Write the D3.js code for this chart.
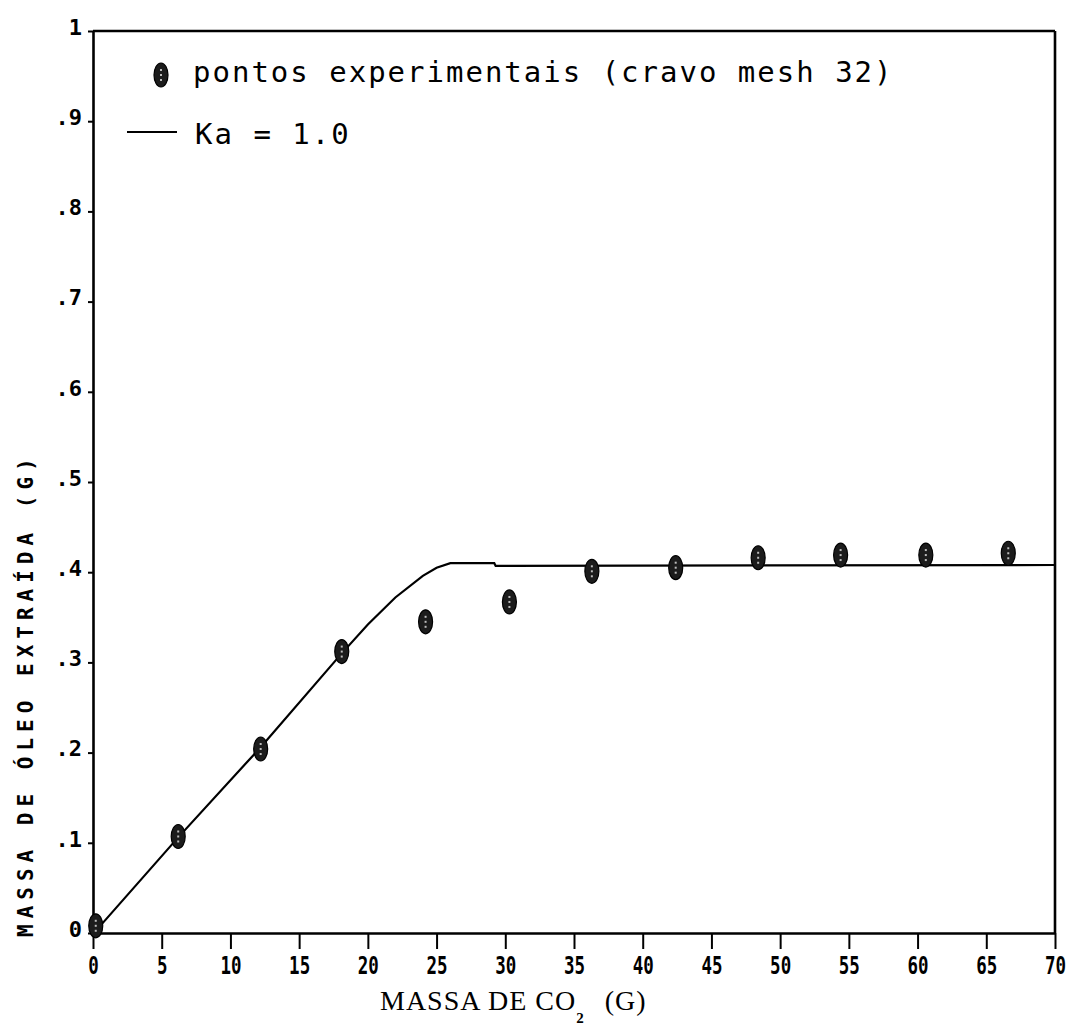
<!DOCTYPE html>
<html>
<head>
<meta charset="utf-8">
<script src="https://cdn.jsdelivr.net/npm/d3@7"></script>
<style>
  html, body { margin: 0; padding: 0; background: #fff; }
  svg { display: block; }
</style>
</head>
<body>
<script>
// Extraction curve of clove oil (cravo, mesh 32): experimental points and model with Ka = 1.0
const co2Mass = [0.2, 6.2, 12.2, 18.1, 24.2, 30.3, 36.3, 42.4, 48.4, 54.4, 60.6, 66.6];
const oilMass = [0.008, 0.107, 0.204, 0.312, 0.345, 0.367, 0.401, 0.405, 0.416, 0.419, 0.419, 0.421];

const modelCo2 = [0.3, 6.2, 12.2, 18.1, 20, 22, 24, 25, 26, 29.2, 29.3, 70];
const modelOil = [0.004, 0.106, 0.206, 0.31, 0.342, 0.372, 0.396, 0.405, 0.41, 0.41, 0.407, 0.408];

const xTicks = [0, 5, 10, 15, 20, 25, 30, 35, 40, 45, 50, 55, 60, 65, 70];
const yTicks = [0, 0.1, 0.2, 0.3, 0.4, 0.5, 0.6, 0.7, 0.8, 0.9, 1];
const yTickLabels = ["0", ".1", ".2", ".3", ".4", ".5", ".6", ".7", ".8", ".9", "1"];

const legendPoints = "pontos experimentais (cravo mesh 32)";
const legendLine = "Ka = 1.0";
const xTitle = "MASSA DE CO";
const xTitleSub = "2";
const xTitleUnit = "(G)";
const yTitle = "MASSA DE ÓLEO EXTRAÍDA (G)";

const W = 1066, H = 1026;
const plotLeft = 93, plotRight = 1055, plotTop = 31, plotBottom = 933;

const svg = d3.select("body").append("svg")
  .attr("width", W).attr("height", H)
  .style("background", "#fff");

const x = d3.scaleLinear().domain([0, 70]).range([plotLeft, plotRight]);
const y = d3.scaleLinear().domain([0, 1]).range([plotBottom, plotTop]);

// x axis
const gx = svg.append("g")
  .attr("transform", `translate(0,${plotBottom})`)
  .call(d3.axisBottom(x).tickValues(xTicks).tickSize(16).tickSizeOuter(0).tickFormat(d3.format("d")));
gx.select(".domain").attr("stroke", "#000").attr("stroke-width", 2.6);
gx.selectAll(".tick line").attr("stroke", "#000").attr("stroke-width", 2);
gx.selectAll(".tick text")
  .attr("y", 41).attr("dy", 0)
  .attr("transform", "scale(0.7,1)")
  .attr("fill", "#000")
  .style("font-family", "'DejaVu Sans Mono', monospace")
  .style("font-weight", "bold")
  .style("font-size", "25px");

// y axis
const gy = svg.append("g")
  .attr("transform", `translate(${plotLeft},0)`)
  .call(d3.axisLeft(y).tickValues(yTicks).tickSize(5).tickPadding(6).tickSizeOuter(0)
    .tickFormat((d, i) => yTickLabels[i]));
gy.select(".domain").attr("stroke", "#000").attr("stroke-width", 2.6);
gy.selectAll(".tick line").attr("stroke", "#000").attr("stroke-width", 2);
gy.selectAll(".tick text")
  .attr("dy", "0.15em")
  .attr("fill", "#000")
  .style("font-family", "'DejaVu Sans Mono', monospace")
  .style("font-weight", "bold")
  .style("font-size", "22px");

// remaining frame sides
svg.append("line").attr("x1", plotLeft).attr("x2", plotRight).attr("y1", plotTop).attr("y2", plotTop)
  .attr("stroke", "#000").attr("stroke-width", 2.6);
svg.append("line").attr("x1", plotRight).attr("x2", plotRight).attr("y1", plotTop).attr("y2", plotBottom)
  .attr("stroke", "#000").attr("stroke-width", 2.6);

// model curve
const line = d3.line().x(d => x(d[0])).y(d => y(d[1]));
svg.append("path")
  .datum(modelCo2.map((v, i) => [v, modelOil[i]]))
  .attr("d", line)
  .attr("fill", "none")
  .attr("stroke", "#000")
  .attr("stroke-width", 2.2);

// experimental points
function drawMarker(g, cx, cy) {
  g.append("ellipse").attr("cx", cx).attr("cy", cy).attr("rx", 7).attr("ry", 12)
    .attr("fill", "#1c1c1c").attr("stroke", "#000").attr("stroke-width", 1.2);
  [-5, 0, 5].forEach(o => g.append("rect")
    .attr("x", cx - 1).attr("y", cy + o - 1).attr("width", 2).attr("height", 2)
    .attr("fill", "#bbb"));
}
const pts = svg.append("g");
co2Mass.forEach((v, i) => drawMarker(pts, x(v), y(oilMass[i])));

// legend
const legendFont = "'DejaVu Sans Mono', monospace";
drawMarker(svg.append("g"), 161, 75);
svg.append("text").attr("x", 193).attr("y", 82)
  .attr("fill", "#000")
  .style("font-family", legendFont).style("font-size", "29px").style("letter-spacing", "2px")
  .text(legendPoints);
svg.append("line").attr("x1", 127).attr("x2", 177).attr("y1", 132).attr("y2", 132)
  .attr("stroke", "#000").attr("stroke-width", 2.2);
svg.append("text").attr("x", 195).attr("y", 144)
  .attr("fill", "#000")
  .style("font-family", legendFont).style("font-size", "29px").style("letter-spacing", "2px")
  .text(legendLine);

// x axis title with subscript
const xt = svg.append("text").attr("x", 380).attr("y", 1010)
  .attr("fill", "#000")
  .style("font-family", "'Liberation Serif', serif")
  .style("font-size", "28px")
  .style("letter-spacing", "1px");
xt.append("tspan").text(xTitle);
xt.append("tspan").attr("dy", 13).style("font-size", "15px").style("font-weight", "bold").text(xTitleSub);
xt.append("tspan").attr("dy", -13).attr("dx", 20).text(xTitleUnit);

// y axis title
svg.append("text")
  .attr("transform", "translate(33,937) rotate(-90)")
  .attr("fill", "#000")
  .style("font-family", "'DejaVu Sans Mono', monospace")
  .style("font-weight", "bold")
  .style("font-size", "21px")
  .style("letter-spacing", "6px")
  .text(yTitle);
</script>
</body>
</html>
